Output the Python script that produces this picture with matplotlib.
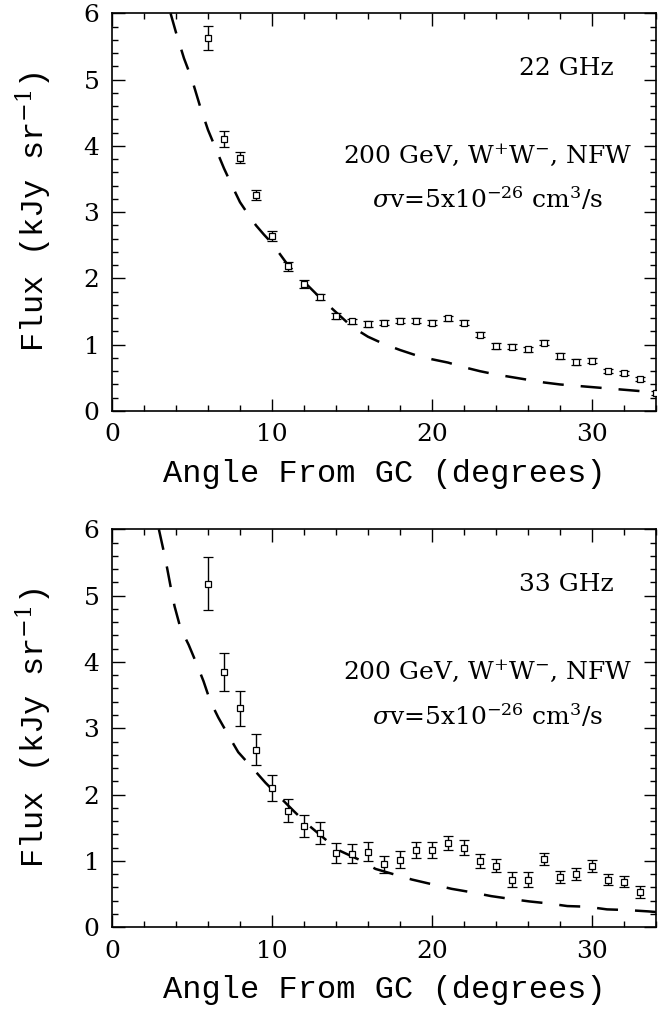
import numpy as np
import matplotlib
matplotlib.use("Agg")
import matplotlib.pyplot as plt
from matplotlib.ticker import MultipleLocator

plt.rcParams['font.family'] = ['DejaVu Serif']
plt.rcParams['mathtext.fontset'] = 'dejavuserif'

# --- 22 GHz data ---
ang_22 = [6, 7, 8, 9, 10, 11, 12, 13, 14, 15, 16, 17, 18, 19, 20, 21, 22, 23, 24, 25,
          26, 27, 28, 29, 30, 31, 32, 33, 34]
flux_22 = [5.63, 4.10, 3.82, 3.26, 2.64, 2.18, 1.91, 1.72, 1.43, 1.35, 1.31, 1.33, 1.36,
           1.36, 1.33, 1.40, 1.33, 1.15, 0.98, 0.97, 0.93, 1.03, 0.83, 0.74, 0.76, 0.60,
           0.58, 0.48, 0.27]
err_22 = [0.18, 0.12, 0.08, 0.08, 0.07, 0.07, 0.06, 0.05, 0.05, 0.04, 0.04, 0.04, 0.04,
          0.04, 0.04, 0.04, 0.04, 0.04, 0.04, 0.04, 0.04, 0.04, 0.04, 0.04, 0.04, 0.03,
          0.03, 0.03, 0.03]

model_x_22 = [3.66, 4.0, 4.5, 5.0, 5.5, 6.0, 6.5, 7.0, 7.5, 8.0, 8.5, 9.0, 9.5, 10, 11,
              12, 13, 14, 15, 16, 17, 18, 19, 20, 21, 22, 23, 24, 25, 26, 27, 28, 29,
              30, 31, 32, 33, 34]
model_y_22 = [6.0, 5.71, 5.32, 5.0, 4.6, 4.24, 3.95, 3.66, 3.40, 3.15, 2.97, 2.80, 2.66,
              2.53, 2.20, 1.95, 1.71, 1.49, 1.27, 1.12, 1.01, 0.92, 0.84, 0.78, 0.73,
              0.66, 0.60, 0.55, 0.51, 0.47, 0.43, 0.40, 0.38, 0.36, 0.34, 0.32, 0.30, 0.28]

# --- 33 GHz data ---
ang_33 = [6, 7, 8, 9, 10, 11, 12, 13, 14, 15, 16, 17, 18, 19, 20, 21, 22, 23, 24, 25,
          26, 27, 28, 29, 30, 31, 32, 33]
flux_33 = [5.18, 3.85, 3.30, 2.68, 2.10, 1.76, 1.53, 1.42, 1.12, 1.11, 1.14, 0.95, 1.02,
           1.16, 1.17, 1.27, 1.20, 1.00, 0.93, 0.72, 0.72, 1.03, 0.76, 0.80, 0.93, 0.72,
           0.69, 0.53]
err_33 = [0.40, 0.29, 0.26, 0.23, 0.20, 0.18, 0.17, 0.16, 0.15, 0.14, 0.14, 0.13, 0.13,
          0.12, 0.12, 0.11, 0.11, 0.10, 0.10, 0.12, 0.11, 0.09, 0.09, 0.09, 0.09, 0.08,
          0.08, 0.09]

model_x_33 = [2.93, 3.24, 3.45, 3.70, 3.91, 4.28, 4.79, 5.31, 5.72, 6.14, 6.65, 7.38,
              7.89, 8.82, 9.59, 10.58, 11.37, 12.23, 13.12, 14.09, 15.44, 16.47, 17.6,
              18.74, 19.98, 21.22, 22.42, 23.7, 24.84, 26.08, 27.26, 28.46, 29.7, 30.94,
              32.17, 33.5, 34]
model_y_33 = [6.0, 5.66, 5.41, 5.09, 4.84, 4.51, 4.26, 3.96, 3.71, 3.41, 3.16, 2.85,
              2.64, 2.39, 2.18, 1.94, 1.75, 1.55, 1.37, 1.17, 1.02, 0.88, 0.80, 0.72,
              0.65, 0.58, 0.53, 0.47, 0.43, 0.39, 0.36, 0.32, 0.31, 0.27, 0.26, 0.24, 0.23]

freq_labels = ["22 GHz", "33 GHz"]
model_label_1 = "200 GeV, W$^{+}$W$^{-}$, NFW"
model_label_2 = "$\\sigma$v=5x10$^{-26}$ cm$^{3}$/s"

label_font = dict(family=['Liberation Mono', 'DejaVu Serif'], fontsize=23)

fig = plt.figure(figsize=(6.71, 10.19), dpi=100)
ax_top = fig.add_axes([0.1669, 0.5967, 0.8107, 0.3903])
ax_bot = fig.add_axes([0.1669, 0.0900, 0.8107, 0.3906])

panels = [(ax_top, ang_22, flux_22, err_22, model_x_22, model_y_22, freq_labels[0]),
          (ax_bot, ang_33, flux_33, err_33, model_x_33, model_y_33, freq_labels[1])]

for ax, xs, ys, es, mx, my, flab in panels:
    ax.errorbar(xs, ys, yerr=es, fmt='s', ms=4.5, mfc='white', mec='black', mew=0.9,
                ecolor='black', elinewidth=1.0, capsize=3.3, capthick=1.0, zorder=3)
    ax.plot(mx, my, color='black', lw=1.8, dashes=(8.4, 6.8), zorder=2)
    ax.set_xlim(0, 34)
    ax.set_ylim(0, 6)
    ax.xaxis.set_major_locator(MultipleLocator(10))
    ax.xaxis.set_minor_locator(MultipleLocator(2))
    ax.yaxis.set_major_locator(MultipleLocator(1))
    ax.yaxis.set_minor_locator(MultipleLocator(0.2))
    ax.tick_params(which='both', direction='in', top=True, right=True, width=1.0,
                   labelsize=18, pad=9)
    ax.tick_params(which='major', length=9)
    ax.tick_params(which='minor', length=4.5)
    for sp in ax.spines.values():
        sp.set_linewidth(1.2)
    ax.set_xlabel("Angle From GC (degrees)", labelpad=9, **label_font)
    ax.set_ylabel("Flux (kJy sr$^{-1}$)", labelpad=21, **label_font)
    ax.text(28.4, 5.17, flab, fontsize=18, ha='center', va='center')
    ax.text(23.5, 3.86, model_label_1, fontsize=18, ha='center', va='center')
    ax.text(23.5, 3.19, model_label_2, fontsize=18, ha='center', va='center')

fig.savefig("out.png", dpi=100)
